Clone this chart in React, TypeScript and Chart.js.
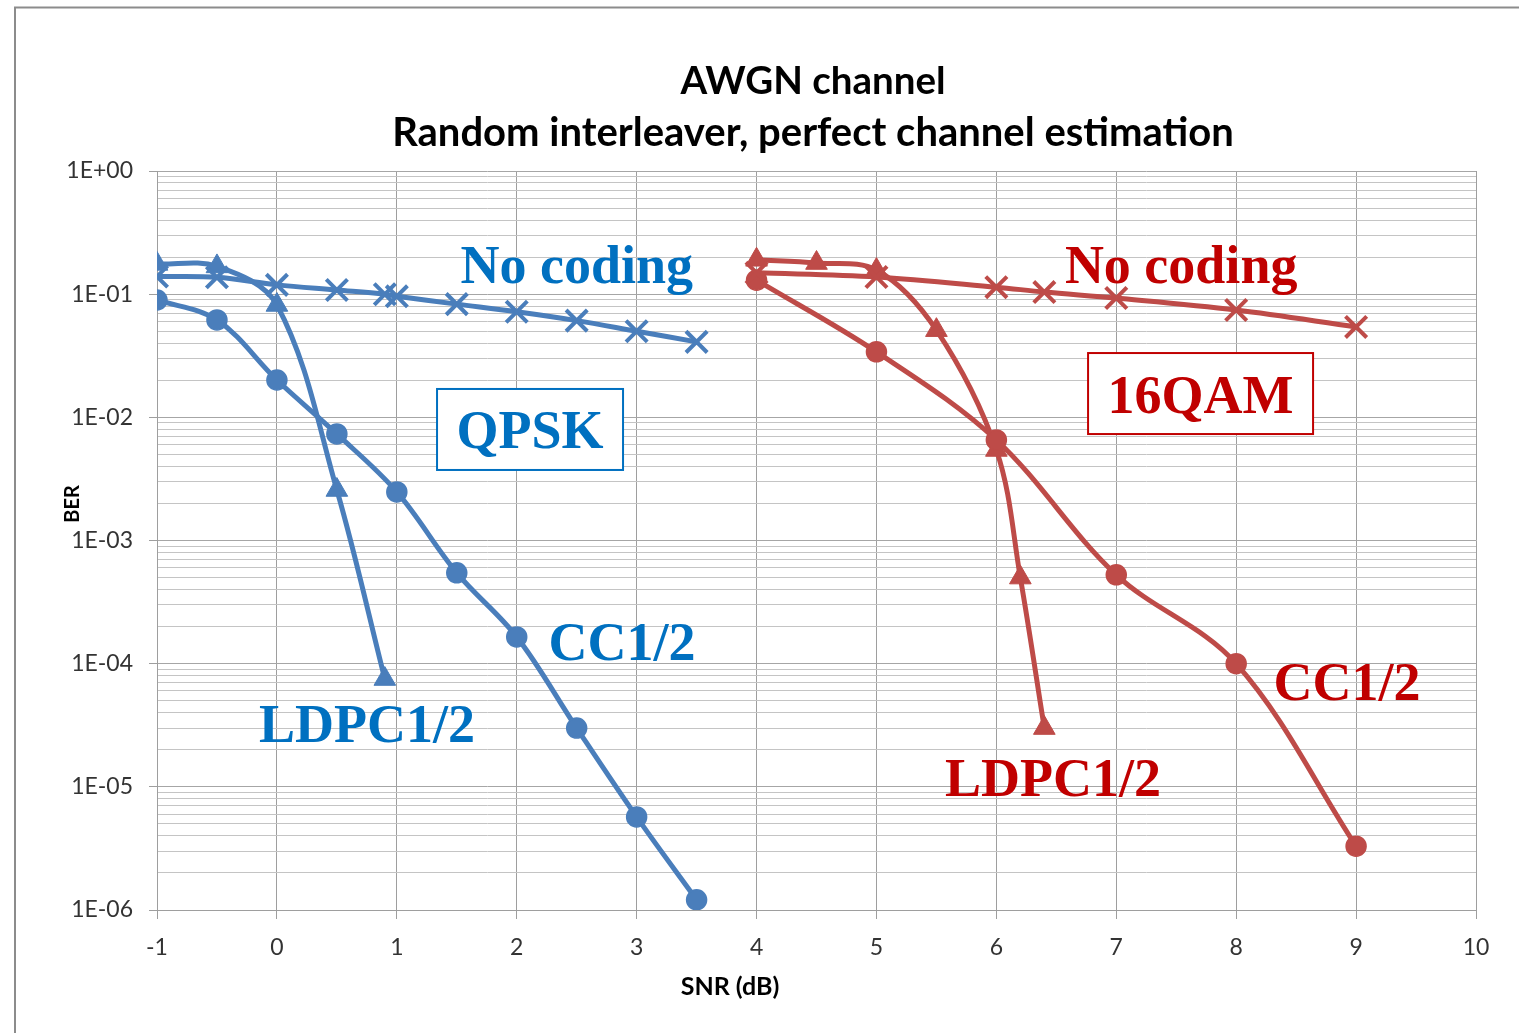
import React, { useEffect, useRef } from "react";
import { Chart, registerables } from "chart.js";

Chart.register(...registerables);

// ---- Data ----
const qpskUncodedSnr = [-1, -0.5, 0, 0.5, 0.9, 1, 1.5, 2, 2.5, 3, 3.5];
const qpskUncodedBer = [0.139, 0.137, 0.119, 0.108, 0.0998, 0.096, 0.083, 0.072, 0.061, 0.05, 0.041];

const qpskCcSnr = [-1, -0.5, 0, 0.5, 1, 1.5, 2, 2.5, 3, 3.5];
const qpskCcBer = [0.0897, 0.0618, 0.0201, 0.00733, 0.00248, 0.000546, 0.000165, 0.00003, 0.0000057, 0.00000121];

const qpskLdpcSnr = [-1, -0.5, 0, 0.5, 0.9];
const qpskLdpcBer = [0.176, 0.168, 0.0817, 0.00257, 0.000075];

const qamUncodedSnr = [4, 5, 6, 6.4, 7, 8, 9];
const qamUncodedBer = [0.149, 0.138, 0.114, 0.104, 0.093, 0.0744, 0.0542];

const qamCcSnr = [4, 5, 6, 7, 8, 9];
const qamCcBer = [0.13, 0.034, 0.00655, 0.000526, 0.0001, 0.0000033];

const qamLdpcSnr = [4, 4.5, 5, 5.5, 6, 6.2, 6.4];
const qamLdpcBer = [0.19, 0.179, 0.157, 0.051, 0.00543, 0.0005, 0.00003];

const yDecades = [1e-6, 1e-5, 1e-4, 1e-3, 1e-2, 1e-1, 1];
const yTickLabels = ["1E-06", "1E-05", "1E-04", "1E-03", "1E-02", "1E-01", "1E+00"];

const titleLines = ["AWGN channel", "Random interleaver, perfect channel estimation"];
const xAxisTitle = "SNR (dB)";
const yAxisTitle = "BER";

const BLUE_LINE = "#4A7EBB";
const RED_LINE = "#BE4B48";
const BLUE_TEXT = "#0070C0";
const RED_TEXT = "#C00000";

// annotations in data coordinates (x = SNR, y = BER at baseline / box centre)
const annotations = [
  { text: "No coding", x: 2.5, y: 0.123, color: BLUE_TEXT },
  { text: "QPSK", x: 2.111, y: 0.00797, color: BLUE_TEXT, box: [186, 81] },
  { text: "CC1/2", x: 2.878, y: 1.07e-4, color: BLUE_TEXT },
  { text: "LDPC1/2", x: 0.751, y: 2.31e-5, color: BLUE_TEXT },
  { text: "No coding", x: 7.541, y: 0.123, color: RED_TEXT },
  { text: "16QAM", x: 7.703, y: 0.0156, color: RED_TEXT, box: [225, 81] },
  { text: "CC1/2", x: 8.925, y: 5.07e-5, color: RED_TEXT },
  { text: "LDPC1/2", x: 6.473, y: 8.43e-6, color: RED_TEXT },
];

const toPoints = (xs: number[], ys: number[]) => xs.map((x, i) => ({ x, y: ys[i] }));

const isDecade = (v: number) => {
  const l = Math.log10(v);
  return Math.abs(l - Math.round(l)) < 1e-6;
};

const decorPlugin = {
  id: "decor",
  beforeDraw(chart: any) {
    const ctx = chart.ctx;
    ctx.save();
    ctx.fillStyle = "#ffffff";
    ctx.fillRect(0, 0, chart.width, chart.height);
    ctx.strokeStyle = "#8c8c8c";
    ctx.lineWidth = 2;
    ctx.strokeRect(15, 7.5, 3000, 3000);
    ctx.restore();
  },
  afterDraw(chart: any) {
    const ctx = chart.ctx;
    const xs = chart.scales.x;
    const ys = chart.scales.y;
    ctx.save();
    // title
    ctx.fillStyle = "#000000";
    ctx.textAlign = "center";
    ctx.textBaseline = "middle";
    ctx.font = 'bold 38.5px "Lato"';
    ctx.fillText(titleLines[0], 813, 82);
    ctx.font = 'bold 40px "Lato"';
    ctx.fillText(titleLines[1], 813, 133);
    // axis titles
    ctx.font = 'bold 25px "Lato"';
    ctx.fillText(xAxisTitle, 730, 987);
    ctx.save();
    ctx.translate(73, 504);
    ctx.rotate(-Math.PI / 2);
    ctx.font = 'bold 20px "Lato"';
    ctx.fillText(yAxisTitle, 0, 0);
    ctx.restore();
    // annotations
    ctx.font = 'bold 54px "Liberation Serif"';
    for (const a of annotations) {
      const px = xs.getPixelForValue(a.x);
      const py = ys.getPixelForValue(a.y);
      ctx.fillStyle = a.color;
      if (a.box) {
        const [w, h] = a.box;
        ctx.fillStyle = "#ffffff";
        ctx.fillRect(px - w / 2, py - h / 2, w, h);
        ctx.strokeStyle = a.color;
        ctx.lineWidth = 2;
        ctx.strokeRect(px - w / 2, py - h / 2, w, h);
        ctx.fillStyle = a.color;
        ctx.textBaseline = "alphabetic";
        ctx.fillText(a.text, px, py + 19);
      } else {
        ctx.textBaseline = "alphabetic";
        ctx.fillText(a.text, px, py);
      }
    }
    ctx.restore();
  },
};

export default function App() {
  const ref = useRef<HTMLCanvasElement | null>(null);

  useEffect(() => {
    if (!ref.current) return;
    const mk = (label: string, xs: number[], ys: number[], color: string, style: string, radius: number, bw: number) => ({
      label,
      data: toPoints(xs, ys),
      borderColor: color,
      backgroundColor: color,
      borderWidth: 5,
      pointStyle: style,
      pointRadius: radius,
      pointBorderWidth: bw,
      pointBackgroundColor: color,
      pointBorderColor: color,
      tension: 0.35,
      fill: false,
    });

    const chart = new Chart(ref.current, {
      type: "line",
      data: {
        datasets: [
          mk("QPSK No coding", qpskUncodedSnr, qpskUncodedBer, BLUE_LINE, "crossRot", 15, 4),
          mk("QPSK CC1/2", qpskCcSnr, qpskCcBer, BLUE_LINE, "circle", 10, 1.5),
          mk("QPSK LDPC1/2", qpskLdpcSnr, qpskLdpcBer, BLUE_LINE, "triangle", 12.5, 1),
          mk("16QAM No coding", qamUncodedSnr, qamUncodedBer, RED_LINE, "crossRot", 15, 4),
          mk("16QAM CC1/2", qamCcSnr, qamCcBer, RED_LINE, "circle", 10, 1.5),
          mk("16QAM LDPC1/2", qamLdpcSnr, qamLdpcBer, RED_LINE, "triangle", 12.5, 1),
        ] as any,
      },
      options: {
        animation: false,
        responsive: false,
        maintainAspectRatio: false,
        layout: { padding: { left: 0, right: 43, top: 171, bottom: 0 } },
        plugins: {
          legend: { display: false },
          title: { display: false },
          tooltip: { enabled: false },
        },
        scales: {
          x: {
            type: "linear",
            min: -1,
            max: 10,
            ticks: {
              stepSize: 1,
              color: "#333333",
              font: { family: "Lato", size: 23 },
              padding: 15,
            },
            grid: {
              color: "#9e9e9e",
              tickColor: "#9e9e9e",
              tickLength: 9,
              lineWidth: 1,
            },
            border: { display: true, color: "#9e9e9e" },
            afterFit: (s: any) => {
              s.height = 123;
            },
          },
          y: {
            type: "logarithmic",
            min: 1e-6,
            max: 1,
            afterBuildTicks: (s: any) => {
              const t: any[] = [];
              for (let e = -6; e <= 0; e++) {
                for (let m = 1; m <= 9; m++) {
                  const v = Number((m * Math.pow(10, e)).toPrecision(6));
                  if (v <= 1) t.push({ value: v });
                }
              }
              s.ticks = t;
            },
            ticks: {
              autoSkip: false,
              color: "#333333",
              font: { family: "Lato", size: 23 },
              padding: 16,
              callback: (value: any) => {
                const v = Number(value);
                const i = yDecades.findIndex((d) => Math.abs(d - v) / d < 1e-6);
                return i >= 0 ? yTickLabels[i] : "";
              },
            },
            grid: {
              color: (c: any) => (c.tick && isDecade(c.tick.value) ? "#a6a6a6" : "#c4c4c4"),
              tickColor: (c: any) => (c.tick && isDecade(c.tick.value) ? "#9e9e9e" : "rgba(0,0,0,0)"),
              tickLength: 8,
              lineWidth: 1,
            },
            border: { display: true, color: "#9e9e9e" },
            afterFit: (s: any) => {
              s.width = 157;
            },
          },
        },
      } as any,
      plugins: [decorPlugin as any],
    });
    return () => chart.destroy();
  }, []);

  return (
    <canvas
      ref={ref}
      width={1519}
      height={1033}
      style={{ position: "absolute", left: 0, top: 0, width: 1519, height: 1033 }}
    />
  );
}
